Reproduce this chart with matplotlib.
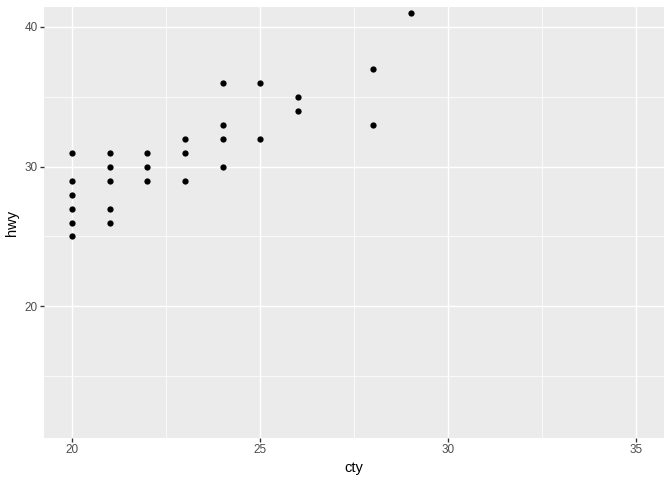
import matplotlib
matplotlib.use("Agg")
import matplotlib.pyplot as plt
from matplotlib.ticker import MultipleLocator

plt.rcParams["font.family"] = ["Liberation Sans", "DejaVu Sans"]

cty = [20, 20, 20, 20, 20, 20, 21, 21, 21, 21, 21, 22, 22, 22, 23, 23, 23,
       24, 24, 24, 24, 25, 25, 26, 26, 28, 28, 29]
hwy = [31, 29, 28, 27, 26, 25, 31, 30, 29, 27, 26, 31, 30, 29, 32, 31, 29,
       36, 33, 32, 30, 36, 32, 35, 34, 37, 33, 41]

fig = plt.figure(figsize=(7, 5), dpi=96)
W, H = 672, 480
ax = fig.add_axes([44 / W, (H - 437.7) / H, 620.3 / W, 430.4 / H])
ax.set_facecolor("#EBEBEB")
ax.scatter(cty, hwy, s=22, color="black", zorder=3, linewidths=0)

ax.set_xlim(19.25, 35.75)
ax.set_ylim(10.6, 41.4)
ax.xaxis.set_major_locator(MultipleLocator(5))
ax.xaxis.set_minor_locator(MultipleLocator(2.5))
ax.set_yticks([20, 30, 40])
ax.set_yticks([15, 25, 35], minor=True)

ax.grid(which="major", color="white", linewidth=1.1)
ax.grid(which="minor", color="white", linewidth=0.55)
ax.set_axisbelow(True)
for s in ax.spines.values():
    s.set_visible(False)
ax.tick_params(which="major", length=2.7, width=1.0, color="#333333",
               labelcolor="#4D4D4D", labelsize=8.8, pad=2)
ax.tick_params(which="minor", length=0)

ax.set_xlabel("cty", fontsize=11, color="black", labelpad=4)
ax.set_ylabel("hwy", fontsize=11, color="black", labelpad=4)

fig.savefig("out.png", dpi=96)
